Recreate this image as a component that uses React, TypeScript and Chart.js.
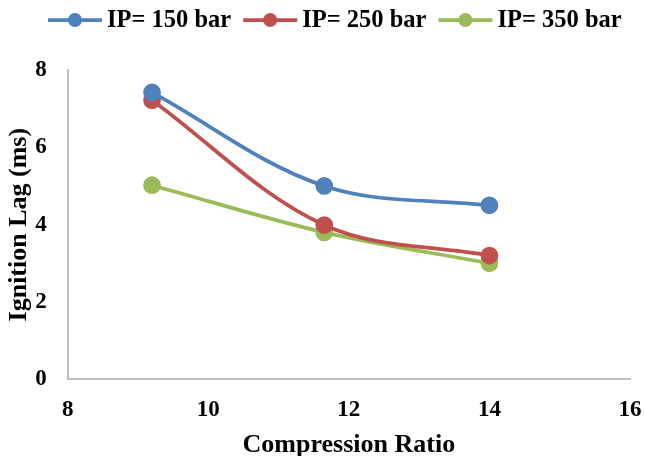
import React, { useEffect, useRef } from "react";
import { Chart, registerables } from "chart.js";

Chart.register(...registerables);

const compressionRatio = [9.2, 11.65, 14];
const ip150 = [7.42, 5.0, 4.5];
const ip250 = [7.22, 3.99, 3.2];
const ip350 = [5.02, 3.8, 3.0];
const seriesNames = ["IP= 150 bar", "IP= 250 bar", "IP= 350 bar"];
const colors = ["#4F81BD", "#C0504D", "#9BBB59"];
const xTicks = [8, 10, 12, 14, 16];
const yTicks = [0, 2, 4, 6, 8];

const FONT = "'Liberation Serif', 'Times New Roman', serif";

const legendPlugin = {
  id: "lineLegend",
  afterDraw(chart: any) {
    const ctx = chart.ctx as CanvasRenderingContext2D;
    const fontSize = 24.5;
    const markerW = 54;
    const gapText = 5;
    const gapItem = 12;
    const cy = 20;
    let x = 48;
    ctx.save();
    ctx.font = `bold ${fontSize}px ${FONT}`;
    ctx.textBaseline = "middle";
    ctx.textAlign = "left";
    chart.data.datasets.forEach((ds: any) => {
      const color = ds.borderColor;
      ctx.strokeStyle = color;
      ctx.lineWidth = 3.75;
      ctx.lineCap = "butt";
      ctx.beginPath();
      ctx.moveTo(x, cy);
      ctx.lineTo(x + markerW, cy);
      ctx.stroke();
      ctx.fillStyle = color;
      ctx.beginPath();
      ctx.arc(x + markerW / 2, cy, 7, 0, Math.PI * 2);
      ctx.fill();
      const tx = x + markerW + gapText;
      ctx.fillStyle = "#000";
      ctx.fillText(ds.label, tx, cy + 1);
      x = tx + ctx.measureText(ds.label).width + gapItem;
    });
    ctx.restore();
  },
};

export default function App() {
  const ref = useRef<HTMLCanvasElement>(null);
  useEffect(() => {
    if (!ref.current) return;
    const all = [ip150, ip250, ip350];
    const chart = new Chart(ref.current, {
      type: "line",
      data: {
        datasets: all.map((vals, i) => ({
          label: seriesNames[i],
          data: compressionRatio.map((x, j) => ({ x, y: vals[j] })),
          borderColor: colors[i],
          backgroundColor: colors[i],
          borderWidth: 3.75,
          pointRadius: 7,
          pointHoverRadius: 7,
          pointStyle: "circle",
          tension: 0.35,
          fill: false,
        })),
      },
      plugins: [legendPlugin],
      options: {
        animation: false,
        responsive: false,
        maintainAspectRatio: false,
        layout: { padding: { left: 4, right: 3, top: 70, bottom: 0 } },
        plugins: {
          tooltip: { enabled: false },
          legend: { display: false },
        },
        scales: {
          x: {
            type: "linear",
            min: 8,
            max: 16,
            afterBuildTicks: (axis: any) => {
              axis.ticks = xTicks.map((v) => ({ value: v }));
            },
            afterFit: (s: any) => {
              s.height = 76.7;
              s.paddingRight = 15;
            },
            grid: { display: false, drawTicks: false },
            border: { display: true, color: "#BFBFBF", width: 2 },
            ticks: {
              color: "#000",
              padding: 17,
              font: { family: FONT, size: 23, weight: "bold" },
            },
            title: {
              display: true,
              text: "Compression Ratio",
              color: "#000",
              padding: { top: 0, bottom: -4.5 },
              font: { family: FONT, size: 26, weight: "bold" },
            },
          },
          y: {
            type: "linear",
            min: 0,
            max: 8,
            afterBuildTicks: (axis: any) => {
              axis.ticks = yTicks.map((v) => ({ value: v }));
            },
            afterFit: (s: any) => {
              s.width = 63.7;
            },
            grid: { display: false, drawTicks: false },
            border: { display: true, color: "#BFBFBF", width: 2 },
            ticks: {
              color: "#000",
              padding: 21,
              font: { family: FONT, size: 23, weight: "bold" },
            },
            title: {
              display: true,
              text: "Ignition Lag (ms)",
              color: "#000",
              padding: { top: 0, bottom: 0 },
              font: { family: FONT, size: 26, weight: "bold" },
            },
          },
        },
      },
    } as any);
    return () => chart.destroy();
  }, []);
  return (
    <div style={{ position: "fixed", left: 0, top: 0, width: 645, height: 456, background: "#fff" }}>
      <canvas ref={ref} width={645} height={456} style={{ width: 645, height: 456 }} />
    </div>
  );
}
